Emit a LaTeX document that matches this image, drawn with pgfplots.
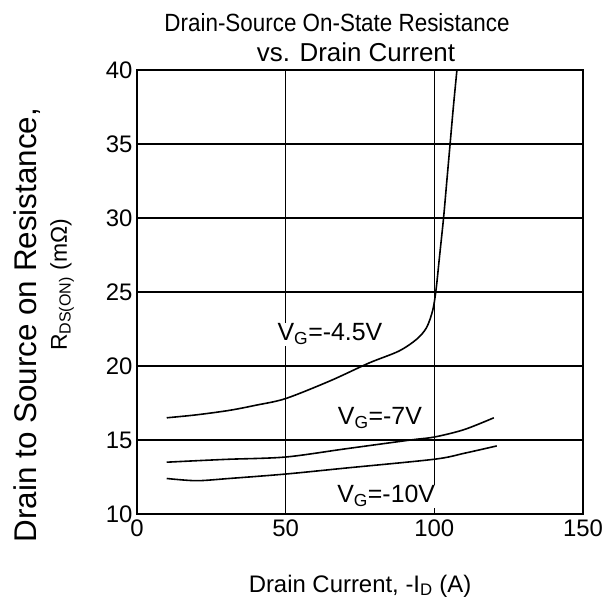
\documentclass[border=0pt]{standalone}
\usepackage{fontspec}
\setmainfont{Liberation Sans}
\usepackage{graphicx}
\usepackage{pgfplots}
\pgfplotsset{compat=1.18}
\begin{document}
\begin{tikzpicture}
\begin{axis}[
  name=ax,
  scale only axis,
  width=446bp, height=444bp,
  xmin=0, xmax=150, ymin=10, ymax=40,
  xtick={0,50,100,150}, ytick={10,15,20,25,30,35,40},
  grid=major,
  major grid style={black, line width=1.1pt},
  axis line style={black, line width=1.5pt},
  major tick length=0pt,
  /pgf/number format/assume math mode=true,
  ticklabel style={font=\fontsize{24}{26}\selectfont},
  xticklabel style={yshift=-2bp},
  yticklabel style={xshift=-1bp},
  clip=false,
]
\addplot[black, line width=1.6pt, smooth] coordinates {
 (10,16.5) (20,16.7) (31,17.0) (40,17.35) (50,17.8) (65,19.0) (78,20.2) (88,21.0) (94,21.8) (97.4,22.6) (99.5,23.8) (100.6,25.2) (101.8,27.5) (103.1,30) (104.2,32.5) (105.3,35) (106.4,37.5) (107.6,40)
};
\addplot[black, line width=1.6pt, smooth] coordinates {
 (10,13.5) (20,13.6) (31,13.7) (50,13.85) (70,14.4) (92,15.0) (100,15.2) (110,15.7) (120,16.5)
};
\addplot[black, line width=1.6pt, smooth] coordinates {
 (10,12.4) (20,12.25) (31,12.4) (50,12.7) (70,13.1) (100,13.7) (110,14.1) (121,14.6)
};
\node[fill=white, inner sep=1pt, font=\fontsize{25}{27}\selectfont] at (axis cs:64.9,22.15) {V\textsubscript{G}=-4.5V};
\node[fill=white, inner sep=1pt, font=\fontsize{25}{27}\selectfont] at (axis cs:81.7,16.5) {V\textsubscript{G}=-7V};
\node[fill=white, inner sep=1pt, font=\fontsize{25}{27}\selectfont] at (axis cs:83.8,11.2) {V\textsubscript{G}=-10V};
\end{axis}
% titles and labels
\node[anchor=base, font=\fontsize{25}{27}\selectfont, inner sep=0pt] at ([yshift=38bp, xshift=-23bp]ax.north) {\scalebox{0.9}[1]{Drain-Source On-State Resistance}};
\node[anchor=base, font=\fontsize{26}{28}\selectfont, inner sep=0pt] at ([yshift=8bp, xshift=-4bp]ax.north) {vs. Drain Current};
\node[anchor=base, font=\fontsize{24}{26}\selectfont, inner sep=0pt] at ([yshift=-78bp]ax.south) {Drain Current, -I\textsubscript{D} (A)};
\node[rotate=90, font=\fontsize{31.5}{33}\selectfont, inner sep=0pt] at ([xshift=-110bp, yshift=-33bp]ax.west) {Drain to Source on Resistance,};
\node[rotate=90, font=\fontsize{23}{25}\selectfont, inner sep=0pt] at ([xshift=-75bp, yshift=7bp]ax.west) {R\textsubscript{DS(ON)} (mΩ)};
\pgfresetboundingbox
\useasboundingbox ([xshift=-137bp,yshift=-84bp]ax.south west) rectangle ([xshift=22bp,yshift=70bp]ax.north east);
\end{tikzpicture}
\end{document}
